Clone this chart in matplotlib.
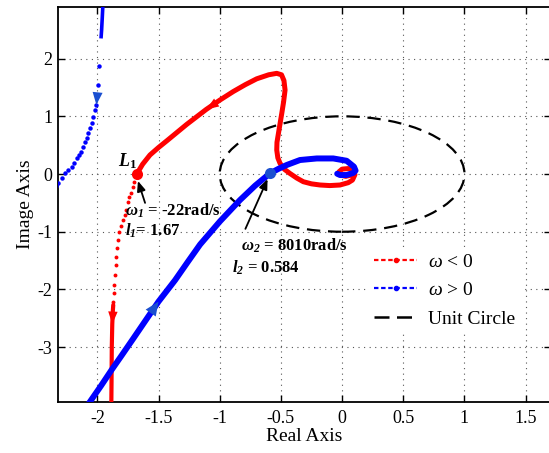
import matplotlib
matplotlib.use("Agg")
import matplotlib.pyplot as plt
from matplotlib.lines import Line2D
from matplotlib.patches import Circle

plt.rcParams['font.family'] = 'serif'
plt.rcParams['font.serif'] = ['Liberation Serif', 'DejaVu Serif']
plt.rcParams['mathtext.fontset'] = 'custom'
plt.rcParams['mathtext.rm'] = 'Liberation Serif'
plt.rcParams['mathtext.it'] = 'Liberation Serif:italic'
plt.rcParams['mathtext.bf'] = 'Liberation Serif:bold'
plt.rcParams['mathtext.bfit'] = 'Liberation Serif:italic:bold'

# ---------------- data ----------------
# omega < 0 : main branch from L1 to the origin spiral
red_main_x = [-1.678, -1.63, -1.57, -1.50, -1.43, -1.35, -1.27, -1.19, -1.11, -1.00, -0.889,
              -0.79, -0.698, -0.60, -0.534, -0.495, -0.475, -0.466, -0.478, -0.493, -0.508,
              -0.52, -0.532, -0.534, -0.525, -0.507, -0.47, -0.426, -0.37, -0.317, -0.25,
              -0.18, -0.10, -0.017, 0.05, 0.085, 0.105, 0.09, 0.05, 0.0, -0.025, -0.01, 0.03, 0.07]
red_main_y = [0.0, 0.17, 0.33, 0.46, 0.58, 0.72, 0.86, 0.99, 1.12, 1.28, 1.43,
              1.55, 1.65, 1.72, 1.745, 1.72, 1.62, 1.456, 1.25, 1.05, 0.86,
              0.705, 0.55, 0.416, 0.28, 0.185, 0.08, 0.01, -0.07, -0.133, -0.17,
              -0.19, -0.20, -0.19, -0.15, -0.104, -0.01, 0.07, 0.095, 0.085, 0.04, -0.02, -0.04, -0.02]
# omega < 0 : sparse points between the far branch and L1
red_sparse_x = [-1.871, -1.866, -1.861, -1.855, -1.850, -1.845, -1.838, -1.830, -1.820,
                -1.805, -1.790, -1.778, -1.765, -1.750, -1.738, -1.725, -1.71, -1.70]
red_sparse_y = [-2.22, -2.07, -1.92, -1.75, -1.58, -1.43, -1.29, -1.14, -1.00,
                -0.90, -0.80, -0.71, -0.62, -0.48, -0.40, -0.33, -0.22, -0.14]
# omega < 0 : far branch going to -infinity
red_far_x = [-1.886, -1.884, -1.882, -1.878, -1.873, -1.870]
red_far_y = [-4.05, -3.60, -3.00, -2.60, -2.36, -2.27]

# omega > 0 : main branch from bottom-left to the origin spiral
blue_main_x = [-2.10, -2.06, -1.97, -1.882, -1.80, -1.706, -1.60, -1.50, -1.365, -1.26, -1.16,
               -0.998, -0.834, -0.71, -0.589, -0.52, -0.453, -0.344, -0.207, -0.072,
               0.037, 0.097, 0.11, 0.092, 0.037, -0.017, -0.04]
blue_main_y = [-4.07, -3.946, -3.67, -3.39, -3.14, -2.85, -2.52, -2.21, -1.84, -1.52, -1.22,
               -0.82, -0.45, -0.20, 0.012, 0.09, 0.156, 0.243, 0.27, 0.27,
               0.23, 0.127, 0.06, 0.02, -0.017, -0.017, 0.005]
# omega > 0 : sparse points of the upper-left branch
blue_sparse_x = [-2.34, -2.319, -2.29, -2.264, -2.237, -2.21, -2.19, -2.168, -2.147, -2.133,
                 -2.115, -2.10, -2.087, -2.073, -2.06, -2.046, -2.033, -2.019, -2.008, -1.992, -1.984]
blue_sparse_y = [-0.21, -0.16, -0.075, 0.012, 0.07, 0.127, 0.185, 0.27, 0.33, 0.386,
                 0.47, 0.56, 0.62, 0.705, 0.79, 0.89, 0.99, 1.11, 1.20, 1.54, 1.87]
# omega > 0 : far branch coming from +infinity
blue_far_x = [-1.970, -1.965, -1.960, -1.956, -1.954]
blue_far_y = [2.35, 2.50, 2.70, 2.87, 2.95]

# marked points
L1_point = (-1.678, 0.0)
w2_point = (-0.589, 0.012)

unit_center = (0.0, 0.0)
unit_radius = 1.0

x_ticks = [-2, -1.5, -1, -0.5, 0, 0.5, 1, 1.5]
x_ticklabels = ['-2', '-1.5', '-1', '-0.5', '0', '0.5', '1', '1.5']
y_ticks = [-3, -2, -1, 0, 1, 2]
y_ticklabels = ['-3', '-2', '-1', '0', '1', '2']

RED = '#ff0000'
BLUE = '#0000ff'
STEEL = '#1a4fd0'

# ---------------- figure ----------------
fig = plt.figure(figsize=(5.49, 4.53), dpi=100)
ax = fig.add_axes([0.1062, 0.1132, 1.0036 - 0.1062, 0.9852 - 0.1132])

ax.set_xlim(-2.319, 1.707)
ax.set_ylim(-3.946, 2.90)

ax.grid(True, linestyle=(0, (1, 4)), color='#555555', lw=0.8)

# unit circle
ax.add_patch(Circle(unit_center, unit_radius, fill=False, ec='black', lw=1.6,
                    linestyle=(0, (6, 3.5)), zorder=2))

# omega < 0
ax.plot(red_main_x, red_main_y, color=RED, lw=3.6, solid_capstyle='round',
        solid_joinstyle='round', zorder=3)
ax.plot(red_sparse_x, red_sparse_y, 'o', color=RED, ms=2.8, mec='none', zorder=3)
ax.plot(red_far_x, red_far_y, color=RED, lw=3.0, solid_capstyle='round', zorder=3)

# omega > 0
ax.plot(blue_main_x, blue_main_y, color=BLUE, lw=4.3, solid_capstyle='round',
        solid_joinstyle='round', zorder=4)
ax.plot(blue_sparse_x, blue_sparse_y, 'o', color=BLUE, ms=3.2, mec='none', zorder=4)
ax.plot(blue_far_x, blue_far_y, color=BLUE, lw=2.6, solid_capstyle='butt', zorder=4)

# direction arrows on curves
def dir_arrow(xs, ys, i_tail, i_head, color, hw, hl):
    ax.annotate('', xy=(xs[i_head], ys[i_head]), xytext=(xs[i_tail], ys[i_tail]),
                arrowprops=dict(arrowstyle='-|>,head_width=%g,head_length=%g' % (hw, hl),
                                color=color, lw=0, shrinkA=0, shrinkB=0,
                                mutation_scale=20), zorder=5)

dir_arrow(red_main_x, red_main_y, 10, 8, RED, 0.17, 0.45)
dir_arrow(red_far_x, red_far_y, 5, 3, RED, 0.17, 0.45)
dir_arrow(blue_main_x, blue_main_y, 5, 7, STEEL, 0.22, 0.5)
dir_arrow(blue_sparse_x, blue_sparse_y, 19, 18, STEEL, 0.18, 0.45)

# marked points
ax.plot(*L1_point, 'o', color=RED, ms=8, mec='none', zorder=6)
ax.plot(*w2_point, 'o', color=STEEL, ms=8, mec='none', zorder=6)

# annotations
ax.annotate('', xy=(L1_point[0] + 0.01, L1_point[1] - 0.12), xytext=(-1.61, -0.50),
            arrowprops=dict(arrowstyle='-|>,head_width=0.25,head_length=0.6',
                            color='black', lw=1.3, shrinkA=0, shrinkB=0), zorder=7)
ax.annotate('', xy=(w2_point[0] - 0.02, w2_point[1] - 0.10), xytext=(-0.79, -0.95),
            arrowprops=dict(arrowstyle='-|>,head_width=0.25,head_length=0.6',
                            color='black', lw=1.3, shrinkA=0, shrinkB=0), zorder=7)

ax.text(-1.83, 0.22, r'$\mathbfit{L}_{\mathbf{1}}$', fontsize=13, fontweight='bold',
        ha='left', va='center')
ax.text(-1.77, -0.63, r'$\mathbfit{\omega}_{\mathbfit{1}}$ = -22rad/s', fontsize=12,
        fontweight='bold', ha='left', va='center')
ax.text(-1.77, -0.98, r'$\mathbfit{l}_{\mathbfit{1}}$= 1.67', fontsize=12,
        fontweight='bold', ha='left', va='center')
ax.text(-0.83, -1.24, r'$\mathbfit{\omega}_{\mathbfit{2}}$ = 8010rad/s', fontsize=12,
        fontweight='bold', ha='left', va='center')
ax.text(-0.90, -1.63, r'$\mathbfit{l}_{\mathbfit{2}}$ = 0.584', fontsize=12,
        fontweight='bold', ha='left', va='center')

# ticks / spines
ax.set_xticks(x_ticks)
ax.set_xticklabels(x_ticklabels)
ax.set_yticks(y_ticks)
ax.set_yticklabels(y_ticklabels)
ax.tick_params(direction='in', length=5, width=1.0, labelsize=13, top=True, right=True,
               pad=6)
ax.tick_params(axis='y', pad=4)
for s in ax.spines.values():
    s.set_linewidth(1.3)

ax.set_xlabel('Real Axis', fontsize=14, labelpad=1)
ax.set_ylabel('Image Axis', fontsize=14, labelpad=3)

# legend
handles = [
    Line2D([], [], color=RED, lw=1.6, linestyle=(0, (2, 1.2)), marker='.', ms=6),
    Line2D([], [], color=BLUE, lw=1.6, linestyle=(0, (2, 1.2)), marker='.', ms=6),
    Line2D([], [], color='black', lw=1.8, linestyle=(0, (6, 3))),
]
labels = [r'$\omega$ < 0', r'$\omega$ > 0', 'Unit Circle']
leg = ax.legend(handles, labels, loc='upper left', bbox_to_anchor=(0.61, 0.415),
                fontsize=14, frameon=True, fancybox=False, framealpha=1,
                edgecolor='none', facecolor='white', handlelength=2.2,
                handletextpad=0.55, labelspacing=0.55, borderpad=0.3)

fig.savefig('out.png', dpi=100)
